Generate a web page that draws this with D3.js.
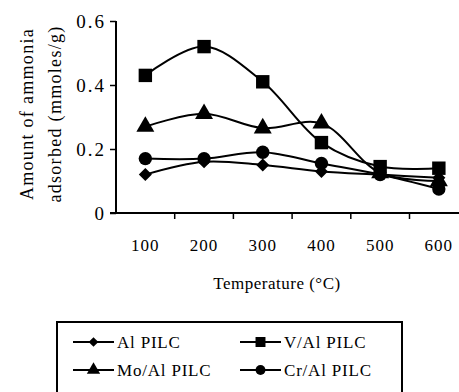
<!DOCTYPE html>
<html>
<head>
<meta charset="utf-8">
<script src="https://cdn.jsdelivr.net/npm/d3@7"></script>
<style>
  html, body { margin: 0; padding: 0; background: #fff; }
  svg { display: block; }
</style>
</head>
<body>
<svg id="chart" width="459" height="392"></svg>
<script>
const categories = ['100', '200', '300', '400', '500', '600'];
const yTicks = [0, 0.2, 0.4, 0.6];
const alPilc = [0.12, 0.16, 0.15, 0.13, 0.12, 0.11];
const vAlPilc = [0.43, 0.52, 0.41, 0.22, 0.145, 0.14];
const moAlPilc = [0.27, 0.31, 0.265, 0.28, 0.125, 0.10];
const crAlPilc = [0.17, 0.17, 0.19, 0.155, 0.12, 0.075];

// diamond = square turned 45deg, as in the original markers
const series = [
  { name: 'Al PILC', values: alPilc, symbol: d3.symbolSquare, size: 85, rotate: 45 },
  { name: 'V/Al PILC', values: vAlPilc, symbol: d3.symbolSquare, size: 180, rotate: 0 },
  { name: 'Mo/Al PILC', values: moAlPilc, symbol: d3.symbolTriangle, size: 140, rotate: 0 },
  { name: 'Cr/Al PILC', values: crAlPilc, symbol: d3.symbolCircle, size: 140, rotate: 0 },
];

const FONT = "'Liberation Serif', 'Times New Roman', serif";
const plot = { left: 116, top: 21, bottom: 213, step: 58.7 };

const svg = d3.select('#chart');

const x = d3.scaleBand()
  .domain(categories)
  .range([plot.left, plot.left + plot.step * categories.length]);

const y = d3.scaleLinear().domain([0, 0.6]).range([plot.bottom, plot.top]);

// Y axis
const yAxis = svg.append('g')
  .attr('transform', `translate(${plot.left},0)`)
  .call(d3.axisLeft(y).tickValues(yTicks).tickSize(6).tickPadding(4)
    .tickFormat(d => d === 0 ? '0' : d3.format('.1f')(d)));
yAxis.select('.domain').attr('stroke', '#000').attr('stroke-width', 2).attr('d', `M0,${plot.top}V${plot.bottom}`);
yAxis.selectAll('.tick line').attr('stroke', '#000').attr('stroke-width', 1.5);
yAxis.selectAll('.tick text')
  .attr('font-family', FONT).attr('font-size', 19).attr('letter-spacing', 2).attr('fill', '#000');

// X axis, ticks between categories
const boundaries = d3.range(1, categories.length + 1).map(i => plot.left + i * plot.step);
const xAxis = svg.append('g').attr('transform', `translate(0,${plot.bottom})`);
xAxis.append('line')
  .attr('x1', plot.left - 6).attr('x2', plot.left + plot.step * categories.length)
  .attr('stroke', '#000').attr('stroke-width', 2);
xAxis.selectAll('line.tk').data(boundaries).join('line')
  .attr('class', 'tk')
  .attr('x1', d => d).attr('x2', d => d).attr('y1', 0).attr('y2', 6)
  .attr('stroke', '#000').attr('stroke-width', 1.5);
xAxis.selectAll('text').data(categories).join('text')
  .attr('x', d => x(d) + x.bandwidth() / 2)
  .attr('y', 38)
  .attr('text-anchor', 'middle')
  .attr('font-family', FONT).attr('font-size', 17).attr('letter-spacing', 1)
  .text(d => d);

// Axis titles
svg.append('text')
  .attr('x', 277).attr('y', 289)
  .attr('text-anchor', 'middle')
  .attr('font-family', FONT).attr('font-size', 17).attr('letter-spacing', 0.5)
  .text('Temperature (°C)');

const yTitle = svg.append('text')
  .attr('transform', 'translate(0,114) rotate(-90)')
  .attr('text-anchor', 'middle')
  .attr('font-family', FONT).attr('font-size', 18).attr('letter-spacing', 1.3);
yTitle.append('tspan').attr('x', 0).attr('y', 33).text('Amount of ammonia');
yTitle.append('tspan').attr('x', 0).attr('y', 61).text('adsorbed (mmoles/g)');

// Lines + markers
const line = d3.line()
  .x((d, i) => x(categories[i]) + x.bandwidth() / 2)
  .y(d => y(d))
  .curve(d3.curveCatmullRom.alpha(0.5));

series.forEach(s => {
  svg.append('path')
    .datum(s.values)
    .attr('fill', 'none')
    .attr('stroke', '#000')
    .attr('stroke-width', 2)
    .attr('d', line);
});

series.forEach(s => {
  svg.append('g').selectAll('path').data(s.values).join('path')
    .attr('transform', (d, i) =>
      `translate(${x(categories[i]) + x.bandwidth() / 2},${y(d)}) rotate(${s.rotate})`)
    .attr('d', d3.symbol().type(s.symbol).size(s.size))
    .attr('fill', '#000');
});

// Legend
const legend = svg.append('g');
legend.append('rect')
  .attr('x', 57).attr('y', 322).attr('width', 345).attr('height', 80)
  .attr('fill', 'none').attr('stroke', '#000').attr('stroke-width', 2);

const legendPos = [
  { x: 73, y: 342 }, { x: 240, y: 342 },
  { x: 73, y: 370 }, { x: 240, y: 370 },
];
series.forEach((s, i) => {
  const p = legendPos[i];
  const item = legend.append('g').attr('transform', `translate(${p.x},${p.y})`);
  item.append('line').attr('x1', 0).attr('x2', 41).attr('stroke', '#000').attr('stroke-width', 2);
  item.append('path')
    .attr('transform', `translate(20.5,0) rotate(${s.rotate})`)
    .attr('d', d3.symbol().type(s.symbol).size(s.size * 0.55))
    .attr('fill', '#000');
  item.append('text')
    .attr('x', 44).attr('y', 6)
    .attr('font-family', FONT).attr('font-size', 17).attr('letter-spacing', 0.8)
    .text(s.name);
});
</script>
</body>
</html>
